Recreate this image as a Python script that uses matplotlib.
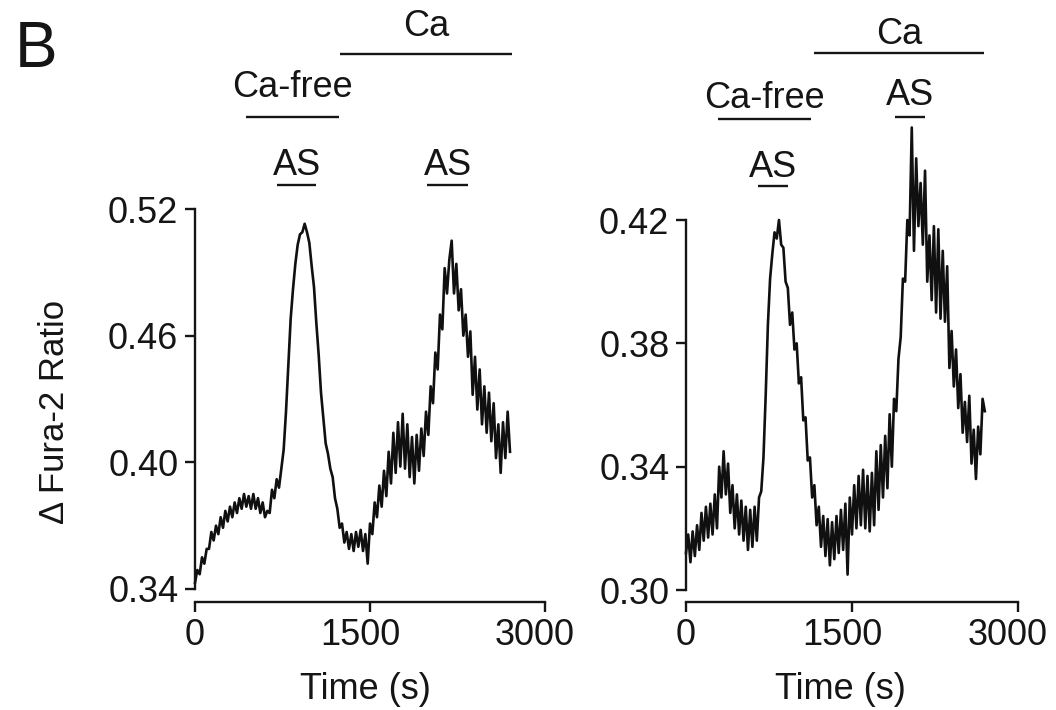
import numpy as np
import matplotlib
matplotlib.use("Agg")
import matplotlib.pyplot as plt
import matplotlib.transforms as mtransforms

plt.rcParams['font.family'] = ['Liberation Sans', 'DejaVu Sans']

# ---------------- data ----------------
time_s = np.arange(0, 2701, 20)

left_ratio = [
    0.343, 0.349, 0.347, 0.355, 0.352, 0.359, 0.359, 0.367, 0.363, 0.370,
    0.366, 0.374, 0.369, 0.377, 0.372, 0.379, 0.374, 0.381, 0.376, 0.383,
    0.378, 0.385, 0.379, 0.384, 0.378, 0.385, 0.378, 0.383, 0.376, 0.381,
    0.374, 0.377, 0.376, 0.387, 0.383, 0.392, 0.388, 0.397, 0.406, 0.424,
    0.446, 0.468, 0.482, 0.494, 0.503, 0.508, 0.509, 0.513, 0.509, 0.504,
    0.493, 0.483, 0.466, 0.451, 0.433, 0.421, 0.409, 0.404, 0.397, 0.393,
    0.383, 0.378, 0.369, 0.371, 0.362, 0.367, 0.359, 0.366, 0.358, 0.367,
    0.360, 0.368, 0.358, 0.366, 0.352, 0.371, 0.366, 0.381, 0.374, 0.389,
    0.379, 0.396, 0.384, 0.405, 0.390, 0.414, 0.395, 0.419, 0.398, 0.423,
    0.397, 0.418, 0.393, 0.412, 0.390, 0.413, 0.396, 0.416, 0.403, 0.424,
    0.413, 0.436, 0.428, 0.452, 0.444, 0.470, 0.463, 0.492, 0.480, 0.496,
    0.505, 0.480, 0.494, 0.472, 0.482, 0.460, 0.470, 0.450, 0.462, 0.432,
    0.450, 0.425, 0.444, 0.418, 0.436, 0.414, 0.433, 0.410, 0.428, 0.402,
    0.418, 0.395, 0.419, 0.402, 0.424, 0.405, 0.420,
][:len(time_s)]

right_ratio = [
    0.312, 0.318, 0.309, 0.319, 0.311, 0.321, 0.313, 0.325, 0.316, 0.327,
    0.317, 0.328, 0.318, 0.331, 0.320, 0.340, 0.330, 0.345, 0.331, 0.341,
    0.325, 0.334, 0.320, 0.331, 0.318, 0.329, 0.316, 0.327, 0.313, 0.326,
    0.314, 0.327, 0.316, 0.330, 0.332, 0.343, 0.363, 0.386, 0.401, 0.409,
    0.416, 0.414, 0.420, 0.412, 0.411, 0.400, 0.398, 0.386, 0.390, 0.378,
    0.380, 0.367, 0.369, 0.355, 0.356, 0.342, 0.343, 0.330, 0.334, 0.321,
    0.327, 0.314, 0.324, 0.311, 0.323, 0.308, 0.322, 0.310, 0.324, 0.312,
    0.326, 0.313, 0.328, 0.305, 0.330, 0.318, 0.334, 0.320, 0.337, 0.321,
    0.339, 0.320, 0.337, 0.319, 0.338, 0.321, 0.345, 0.326, 0.347, 0.330,
    0.350, 0.333, 0.357, 0.340, 0.362, 0.358, 0.375, 0.382, 0.401, 0.400,
    0.420, 0.415, 0.450, 0.410, 0.440, 0.418, 0.432, 0.412, 0.436, 0.400,
    0.415, 0.394, 0.418, 0.390, 0.417, 0.388, 0.410, 0.387, 0.405, 0.372,
    0.384, 0.366, 0.378, 0.359, 0.370, 0.351, 0.361, 0.348, 0.363, 0.341,
    0.352, 0.336, 0.353, 0.344, 0.362, 0.358,
]
right_ratio = right_ratio + [right_ratio[-1]] * (len(time_s) - len(right_ratio))

x_ticks = [0, 1500, 3000]
left_yticks = [0.34, 0.40, 0.46, 0.52]
right_yticks = [0.30, 0.34, 0.38, 0.42]

# treatment bars: (label, start s, end s)
left_bars = [("Ca", 1240, 2720), ("Ca-free", 437, 1234),
             ("AS", 703, 1037), ("AS", 1989, 2340)]
right_bars = [("Ca", 1157, 2693), ("Ca-free", 289, 1130),
              ("AS", 1889, 2160), ("AS", 651, 922)]

# layout (axes-fraction heights: line, text baseline)
left_bar_y = [(1.408, 1.455), (1.242, 1.295), (1.063, 1.089), (1.063, 1.089)]
right_bar_y = [(1.451, 1.476), (1.273, 1.303), (1.278, 1.311), (1.092, 1.116)]

FS = 26
INK = "#151515"
W, H = 1056, 710
fig = plt.figure(figsize=(W / 100, H / 100), dpi=100)

axL = fig.add_axes([195 / W, 1 - 589 / H, 350 / W, 380 / H])
axR = fig.add_axes([686 / W, 1 - 590 / H, 332 / W, 370 / H])


def style(ax, yticks, ylim, offset):
    ax.set_xlim(0, 3000)
    ax.set_ylim(*ylim)
    ax.set_xticks(x_ticks)
    ax.set_xticklabels([str(v) for v in x_ticks])
    ax.set_yticks(yticks)
    ax.set_yticklabels([f"{v:.2f}" for v in yticks])
    for s in ("top", "right"):
        ax.spines[s].set_visible(False)
    for s in ("left", "bottom"):
        ax.spines[s].set_linewidth(1.7)
        ax.spines[s].set_color(INK)
    ax.spines["bottom"].set_position(("outward", offset))
    ax.tick_params(axis="both", labelsize=FS, length=7, width=1.7,
                   direction="out", pad=5, colors=INK)
    ax.patch.set_alpha(0)
    # the wider x labels sit a little left of their ticks, as in the source
    shift = mtransforms.ScaledTranslation(-10 / 100, 0, fig.dpi_scale_trans)
    for lab in ax.get_xticklabels():
        if lab.get_text() != "0":
            lab.set_transform(lab.get_transform() + shift)


def bars(ax, items, ys):
    tr = mtransforms.blended_transform_factory(ax.transData, ax.transAxes)
    for (lab, a, b), (yl, yt) in zip(items, ys):
        ax.plot([a, b], [yl, yl], color=INK, lw=1.7,
                transform=tr, clip_on=False, solid_capstyle="butt")
        ax.text((a + b) / 2, yt, lab, transform=tr, ha="center",
                va="baseline", fontsize=FS, color=INK)


axL.plot(time_s, left_ratio, color="#101010", lw=1.9, clip_on=False)
axR.plot(time_s, right_ratio, color="#101010", lw=1.9, clip_on=False)

style(axL, left_yticks, (0.34, 0.52), 9)
style(axR, right_yticks, (0.30, 0.42), 8.5)
bars(axL, left_bars, left_bar_y)
bars(axR, right_bars, right_bar_y)

fig.text(365 / W, 1 - 699 / H, "Time (s)", ha="center", va="baseline",
         fontsize=FS, color=INK)
fig.text(840 / W, 1 - 699 / H, "Time (s)", ha="center", va="baseline",
         fontsize=FS, color=INK)
fig.text(55 / W, 1 - 412 / H, "Δ Fura-2 Ratio", ha="center", va="center",
         rotation=90, fontsize=FS - 1, color=INK)
fig.text(15 / W, 1 - 67 / H, "B", ha="left", va="baseline",
         fontsize=46, color=INK)

fig.savefig("out.png", dpi=100)
